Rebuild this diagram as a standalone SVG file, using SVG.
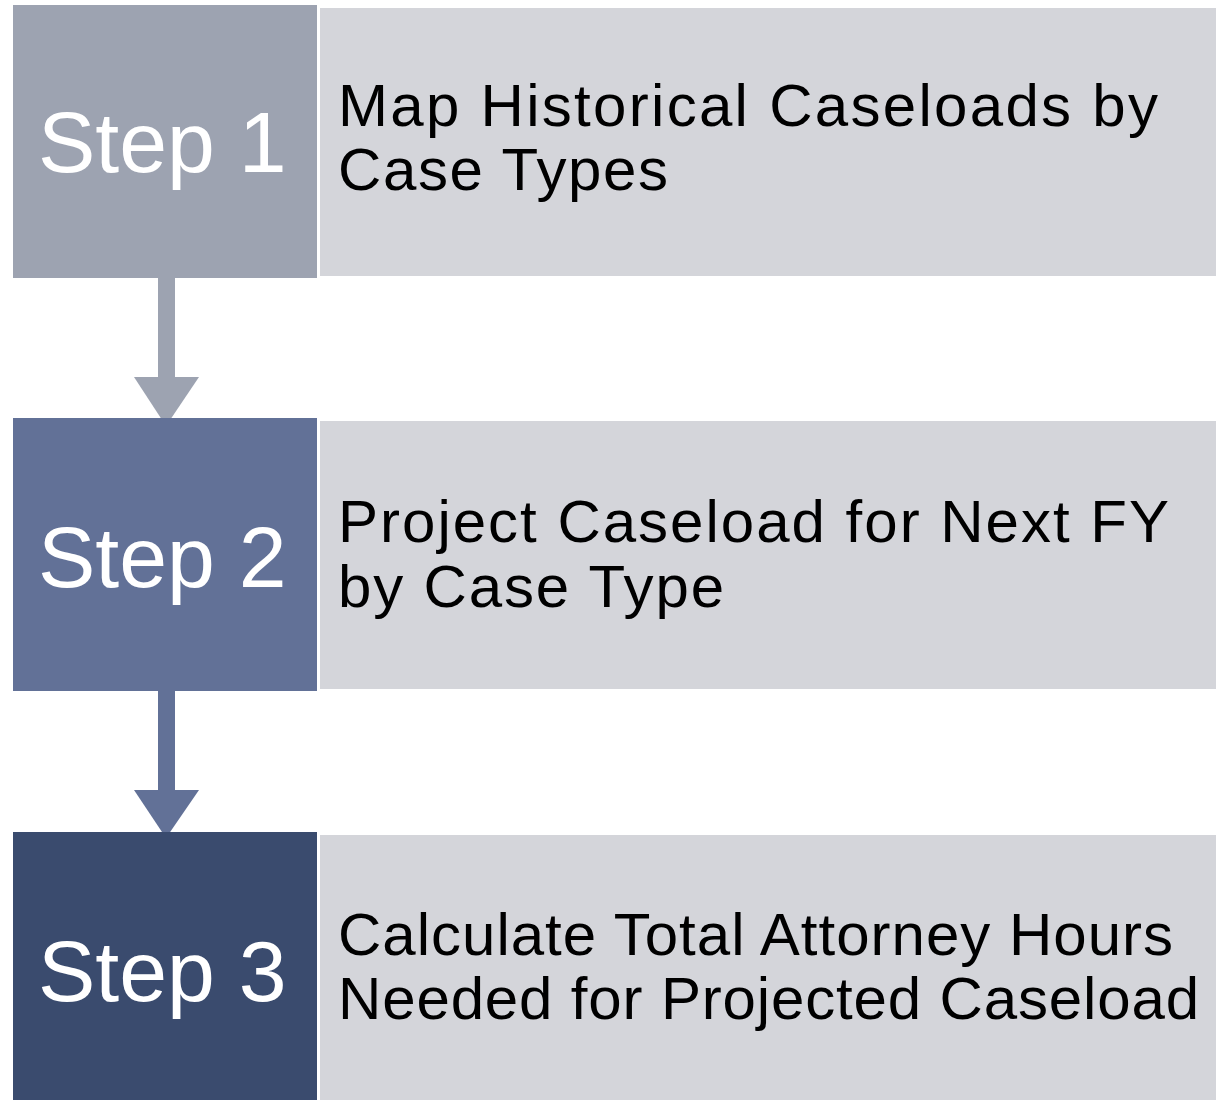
<svg xmlns="http://www.w3.org/2000/svg" width="1216" height="1100" viewBox="0 0 1216 1100">
<style>
.step{font-family:"Liberation Sans",Arial,sans-serif;font-size:86px;fill:#ffffff}
.desc{font-family:"Liberation Sans",Arial,sans-serif;font-size:60px;fill:#000000}
.panel{fill:#d4d5da}
</style>
<rect width="1216" height="1100" fill="#ffffff"/>
<g id="connectors">
<g id="arrow1" fill="#9da3b1">
<rect x="158" y="277" width="17" height="101"/>
<polygon points="134,377 199,377 166,426"/>
</g>
<g id="arrow2" fill="#627197">
<rect x="158" y="690" width="17" height="101"/>
<polygon points="134,790 199,790 166,838"/>
</g>
</g>
<g id="step1">
<rect x="13" y="5" width="304" height="273" fill="#9da3b1"/>
<rect class="panel" x="320" y="8" width="896" height="268"/>
<text class="step" x="38" y="172">Step 1</text>
<text class="desc" x="338" y="126" textLength="820" lengthAdjust="spacing">Map Historical Caseloads by</text>
<text class="desc" x="338" y="190" textLength="330" lengthAdjust="spacing">Case Types</text>
</g>
<g id="step2">
<rect x="13" y="418" width="304" height="273" fill="#627197"/>
<rect class="panel" x="320" y="421" width="896" height="268"/>
<text class="step" x="38" y="587">Step 2</text>
<text class="desc" x="338" y="542" textLength="831" lengthAdjust="spacing">Project Caseload for Next FY</text>
<text class="desc" x="338" y="607" textLength="386" lengthAdjust="spacing">by Case Type</text>
</g>
<g id="step3">
<rect x="13" y="832" width="304" height="273" fill="#3a4b6e"/>
<rect class="panel" x="320" y="835" width="896" height="268"/>
<text class="step" x="38" y="1001">Step 3</text>
<text class="desc" x="338" y="955" textLength="835" lengthAdjust="spacing">Calculate Total Attorney Hours</text>
<text class="desc" x="338" y="1019" textLength="861" lengthAdjust="spacing">Needed for Projected Caseload</text>
</g>
</svg>
